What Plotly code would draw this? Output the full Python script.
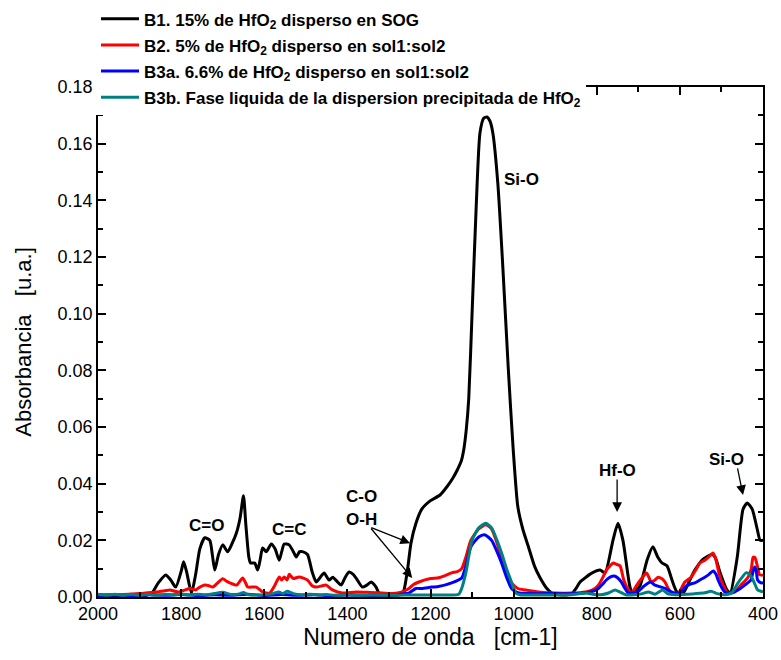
import plotly.graph_objects as go

# ---------------- data ----------------
b1_x = [2000, 1960, 1920, 1890, 1870, 1855, 1837, 1825, 1813, 1800, 1794, 1787, 1775, 1765, 1755, 1743,
        1731, 1725, 1719, 1710, 1700, 1688, 1677, 1667, 1658, 1650, 1644, 1637, 1633, 1623, 1616, 1610,
        1604, 1595, 1583, 1574, 1564, 1558, 1552, 1540, 1530, 1523, 1515, 1508, 1496, 1485, 1475, 1465,
        1456, 1444, 1435, 1425, 1415, 1405, 1396, 1386, 1379, 1364, 1355, 1343, 1331, 1324, 1310, 1290,
        1275, 1265, 1255, 1247, 1235, 1221, 1200, 1177, 1160, 1146, 1135, 1126, 1120, 1114, 1108, 1100,
        1090, 1081, 1072, 1064, 1057, 1050, 1038, 1026, 1013, 1001, 990, 978, 965, 950, 937, 920, 908, 890,
        870, 860, 850, 840, 811, 792, 780, 761, 749, 737, 720, 713, 696, 679, 665, 653, 643, 631, 619,
        607, 592, 576, 564, 544, 523, 515, 503, 487, 479, 462, 448, 438, 426, 414, 407, 400]
b1_y = [0.0005, 0.0003, 0.0005, 0.0004, 0.0015, 0.005, 0.0078, 0.006, 0.0035, 0.009, 0.0124, 0.009,
        0.0014, 0.008, 0.017, 0.0209, 0.020, 0.015, 0.0095, 0.015, 0.0184, 0.016, 0.019, 0.0226, 0.028,
        0.0357, 0.025, 0.014, 0.012, 0.012, 0.0095, 0.013, 0.0173, 0.016, 0.0187, 0.017, 0.013, 0.016,
        0.0187, 0.0184, 0.016, 0.0141, 0.016, 0.016, 0.015, 0.009, 0.0053, 0.007, 0.0085, 0.006, 0.007,
        0.0055, 0.0042, 0.007, 0.0088, 0.008, 0.0067, 0.0035, 0.004, 0.0053, 0.0035, 0.0014, 0.0008,
        0.0006, 0.0008, 0.002, 0.010, 0.019, 0.026, 0.031, 0.034, 0.036, 0.039, 0.042, 0.045, 0.048,
        0.052, 0.059, 0.070, 0.100, 0.138, 0.1638, 0.1690, 0.1694, 0.168, 0.1638, 0.146, 0.1165, 0.081,
        0.052, 0.032, 0.024, 0.018, 0.011, 0.007, 0.003, 0.0014, 0.0008, 0.0008, 0.0012, 0.003, 0.0053,
        0.0085, 0.0095, 0.0085, 0.020, 0.026, 0.020, 0.0035, 0.0014, 0.004, 0.013, 0.0177, 0.014, 0.012,
        0.011, 0.006, 0.0018, 0.0014, 0.006, 0.0095, 0.0134, 0.015, 0.014, 0.0085, 0.0025, 0.0014, 0.014,
        0.031, 0.0332, 0.031, 0.024, 0.020, 0.020]

b2_x = [2000, 1950, 1900, 1880, 1859, 1840, 1827, 1815, 1805, 1790, 1779, 1765, 1755, 1743, 1733, 1724,
        1712, 1700, 1690, 1683, 1667, 1652, 1645, 1640, 1619, 1604, 1587, 1575, 1564, 1558, 1552, 1545,
        1540, 1530, 1516, 1496, 1485, 1475, 1460, 1451, 1436, 1412, 1379, 1345, 1316, 1290, 1276, 1265,
        1252, 1240, 1228, 1200, 1180, 1149, 1135, 1125, 1115, 1103, 1084, 1067, 1053, 1040, 1029, 1017,
        1005, 990, 971, 940, 899, 860, 827, 810, 796, 785, 777, 768, 760, 752, 744, 735, 724, 717, 700,
        690, 680, 669, 660, 652, 644, 636, 628, 621, 604, 588, 573, 560, 552, 540, 528, 520, 513, 507,
        501, 490, 484, 468, 453, 436, 428, 424, 420, 417, 412, 408, 400]
b2_y = [0.0008, 0.0008, 0.0012, 0.0015, 0.0018, 0.0022, 0.0025, 0.002, 0.0018, 0.0025, 0.003, 0.0025,
        0.0035, 0.0042, 0.004, 0.0035, 0.005, 0.0064, 0.0055, 0.005, 0.0042, 0.0067, 0.005, 0.0035,
        0.0035, 0.0018, 0.0014, 0.004, 0.0071, 0.006, 0.0071, 0.006, 0.008, 0.0065, 0.0071, 0.006, 0.004,
        0.0035, 0.004, 0.0042, 0.0025, 0.0014, 0.0018, 0.0016, 0.0014, 0.0012, 0.0015, 0.002, 0.003,
        0.0045, 0.0053, 0.0065, 0.0068, 0.0085, 0.009, 0.010, 0.014, 0.020, 0.024, 0.0255, 0.024, 0.019,
        0.014, 0.008, 0.005, 0.003, 0.0025, 0.0018, 0.0014, 0.0014, 0.0018, 0.0025, 0.0042, 0.007, 0.0095,
        0.011, 0.012, 0.0115, 0.011, 0.006, 0.0025, 0.0014, 0.005, 0.007, 0.0085, 0.0053, 0.006, 0.007,
        0.0065, 0.0053, 0.003, 0.0018, 0.0014, 0.0053, 0.007, 0.010, 0.012, 0.013, 0.0145, 0.0155, 0.013,
        0.009, 0.006, 0.0025, 0.0014, 0.0018, 0.0042, 0.007, 0.010, 0.014, 0.014, 0.013, 0.010, 0.0078,
        0.0078]

b3a_x = [2000, 1960, 1920, 1880, 1840, 1800, 1760, 1720, 1680, 1640, 1600, 1560, 1520, 1480, 1440, 1400,
         1350, 1300, 1276, 1260, 1252, 1235, 1221, 1197, 1181, 1149, 1125, 1115, 1103, 1084, 1070, 1053,
         1040, 1029, 1017, 1005, 990, 960, 900, 850, 827, 810, 796, 786, 777, 768, 758, 750, 741, 732, 724,
         710, 700, 685, 671, 660, 645, 635, 624, 604, 595, 588, 576, 564, 552, 540, 530, 520, 513, 508, 500,
         492, 476, 460, 444, 429, 424, 420, 416, 413, 405, 400]
b3a_y = [0.0005, 0.0007, 0.0004, 0.0008, 0.0006, 0.0009, 0.0005, 0.0008, 0.0006, 0.001, 0.0005, 0.0009,
         0.0006, 0.0008, 0.0005, 0.0007, 0.0005, 0.0006, 0.0008, 0.0012, 0.0014, 0.003, 0.003, 0.0035,
         0.0037, 0.005, 0.0067, 0.011, 0.0177, 0.0212, 0.022, 0.020, 0.016, 0.012, 0.007, 0.003, 0.0015,
         0.0012, 0.0012, 0.0012, 0.0015, 0.002, 0.003, 0.0045, 0.006, 0.007, 0.0074, 0.0068, 0.0053, 0.003,
         0.0014, 0.0016, 0.002, 0.004, 0.0053, 0.0042, 0.0035, 0.003, 0.002, 0.0012, 0.002, 0.0035, 0.0045,
         0.005, 0.006, 0.007, 0.008, 0.0092, 0.008, 0.006, 0.0035, 0.0018, 0.0014, 0.0025, 0.0042, 0.006,
         0.009, 0.0106, 0.009, 0.006, 0.005, 0.005]

b3b_x = [2000, 1980, 1960, 1940, 1920, 1900, 1880, 1860, 1840, 1820, 1800, 1780, 1760, 1740, 1720, 1700,
         1680, 1660, 1650, 1640, 1620, 1600, 1580, 1565, 1555, 1545, 1530, 1510, 1490, 1470, 1450, 1430,
         1400, 1370, 1340, 1300, 1260, 1200, 1160, 1132, 1125, 1115, 1100, 1084, 1067, 1053, 1040, 1029,
         1017, 1007, 995, 985, 950, 900, 860, 840, 825, 810, 790, 770, 756, 745, 730, 710, 690, 676, 660,
         641, 630, 610, 580, 560, 540, 525, 510, 490, 475, 460, 450, 441, 432, 424, 418, 413, 400]
b3b_y = [0.001, 0.0006, 0.001, 0.0006, 0.001, 0.0006, 0.001, 0.0006, 0.001, 0.0007, 0.0011, 0.0007, 0.001,
         0.0008, 0.0012, 0.0017, 0.0009, 0.0011, 0.0016, 0.0009, 0.0007, 0.0008, 0.0012, 0.0018, 0.0012,
         0.002, 0.0012, 0.0008, 0.001, 0.0007, 0.0009, 0.0006, 0.0008, 0.0006, 0.0007, 0.0006, 0.0007,
         0.0007, 0.0007, 0.001, 0.003, 0.0085, 0.020, 0.0244, 0.026, 0.0244, 0.020, 0.0155, 0.010, 0.006,
         0.0014, 0.0008, 0.0007, 0.0007, 0.0008, 0.0012, 0.0014, 0.001, 0.0008, 0.0015, 0.0025, 0.0018,
         0.0008, 0.0008, 0.0012, 0.0018, 0.001, 0.0025, 0.0012, 0.0008, 0.001, 0.0012, 0.0015, 0.002,
         0.0012, 0.0008, 0.0015, 0.005, 0.007, 0.0085, 0.008, 0.006, 0.004, 0.0025, 0.0018]

series_names = [
    "B1. 15% de HfO<sub>2</sub> disperso en SOG",
    "B2. 5% de HfO<sub>2</sub> disperso en sol1:sol2",
    "B3a. 6.6% de HfO<sub>2</sub> disperso en sol1:sol2",
    "B3b. Fase liquida de la dispersion precipitada de HfO<sub>2</sub>",
]
series_colors = ["#000000", "#ff0000", "#0000ff", "#008080"]
series_x = [b1_x, b2_x, b3a_x, b3b_x]
series_y = [b1_y, b2_y, b3a_y, b3b_y]

# peak labels: (text, x, y)
peak_labels = [
    ("Si-O", 980, 0.1472),
    ("C=O", 1738, 0.0254),
    ("C=C", 1540, 0.0240),
    ("C-O", 1365, 0.0353),
    ("O-H", 1365, 0.0272),
    ("Hf-O", 749, 0.0448),
    ("Si-O", 487, 0.0484),
]
# arrows: (tail_x, tail_y, head_x, head_y)
arrows = [
    (1346, 0.0247, 1249, 0.0190),
    (1346, 0.0247, 1244, 0.0067),
    (751, 0.0420, 751, 0.0300),
    (462, 0.0459, 448, 0.0360),
]

FONT = "Liberation Sans, Arial, sans-serif"

fig = go.Figure()
for i, (n, c, xs, ys) in enumerate(zip(series_names, series_colors, series_x, series_y)):
    fig.add_trace(go.Scatter(
        x=xs, y=ys, name=n, mode="lines",
        line=dict(color=c, width=3, shape="spline", smoothing=0.6),
        legendgroup=f"g{i}",
    ))

annotations = []
for t, x, y in peak_labels:
    annotations.append(dict(x=x, y=y, xref="x", yref="y", text=f"<b>{t}</b>",
                            showarrow=False, font=dict(family=FONT, size=17, color="black")))
for tx, ty, hx, hy in arrows:
    annotations.append(dict(x=hx, y=hy, ax=tx, ay=ty, xref="x", yref="y", axref="x", ayref="y",
                            text="", showarrow=True, arrowhead=2, arrowsize=1.5, arrowwidth=1.3,
                            arrowcolor="black", standoff=0, startstandoff=0))

fig.update_layout(
    width=781, height=660,
    margin=dict(l=98, r=18, t=87, b=63, autoexpand=False),
    paper_bgcolor="white", plot_bgcolor="white",
    font=dict(family=FONT, color="black"),
    showlegend=True,
    legend=dict(x=-0.003, y=1.168, xanchor="left", yanchor="top",
                bgcolor="white", borderwidth=0,
                font=dict(family=FONT, size=17, color="black", weight="bold"),
                tracegroupgap=1, itemwidth=38),
    annotations=annotations,
)
fig.update_xaxes(
    range=[2000, 400], autorange=False,
    tickmode="linear", tick0=400, dtick=200,
    ticks="inside", ticklen=8, tickwidth=1.5, tickcolor="black",
    minor=dict(ticks="inside", ticklen=5, tickwidth=1.5, dtick=100, tick0=400, tickcolor="black"),
    showline=True, linecolor="black", linewidth=1.5, mirror="allticks",
    showgrid=False, zeroline=False,
    tickfont=dict(family=FONT, size=18),
    title=dict(text="Numero de onda\u00a0\u00a0 [cm-1]", font=dict(family=FONT, size=23), standoff=6),
)
fig.update_yaxes(
    range=[0, 0.18], autorange=False,
    tickmode="linear", tick0=0, dtick=0.02, tickformat=".2f",
    ticks="inside", ticklen=8, tickwidth=1.5, tickcolor="black",
    minor=dict(ticks="inside", ticklen=5, tickwidth=1.5, dtick=0.01, tickcolor="black"),
    showline=True, linecolor="black", linewidth=1.5, mirror="allticks",
    showgrid=False, zeroline=False,
    tickfont=dict(family=FONT, size=18),
    title=dict(text="Absorbancia\u00a0\u00a0 [u.a.]", font=dict(family=FONT, size=22), standoff=20),
)

fig.write_html("out.html")
